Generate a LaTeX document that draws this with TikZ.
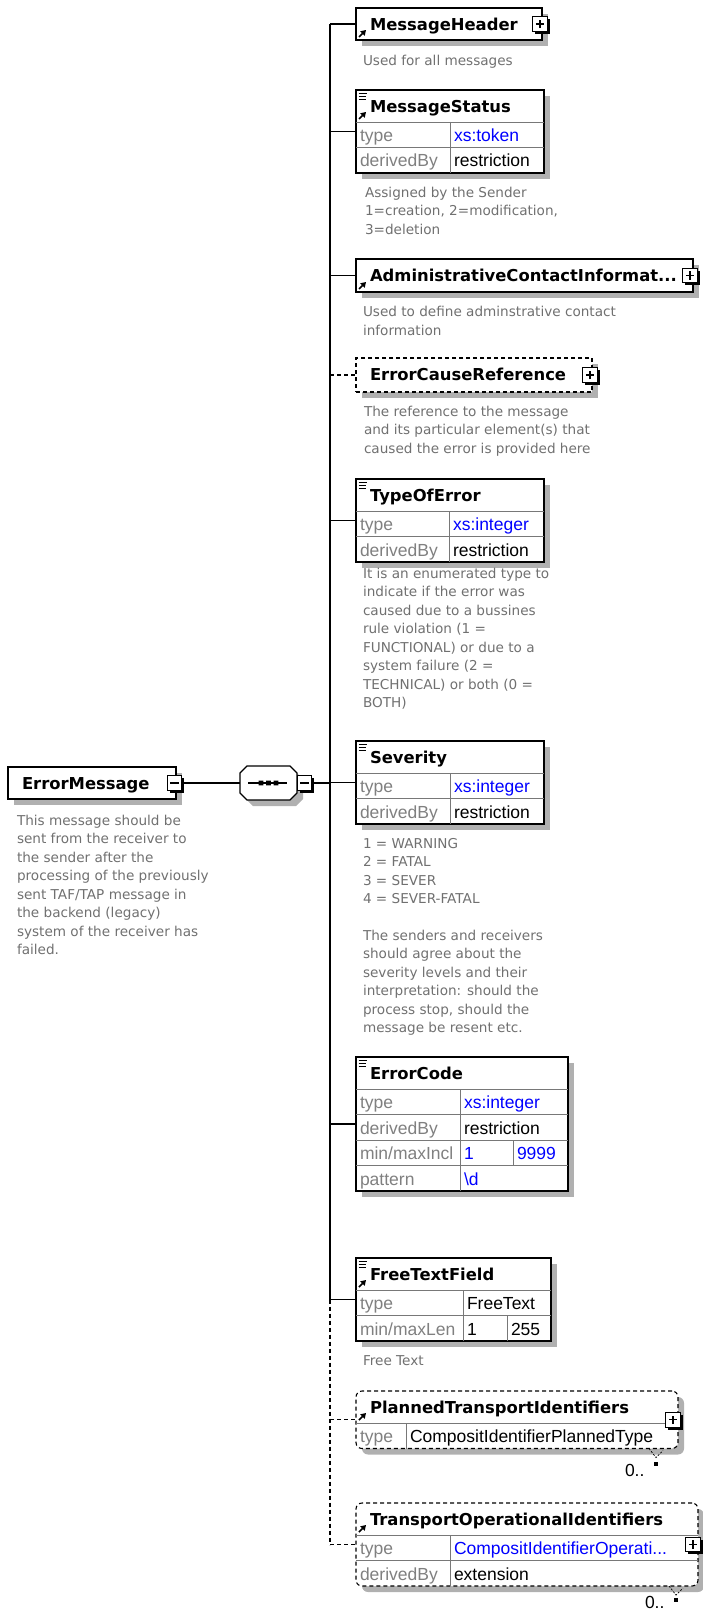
\documentclass[tikz,border=0pt]{standalone}
\usepackage{fontspec}
\setmainfont{DejaVu Sans}
\newfontfamily\tablefont{Liberation Sans}
\usetikzlibrary{shadows, positioning, arrows.meta}
\definecolor{shadow_gray}{RGB}{176, 176, 176}
\definecolor{desc_gray}{RGB}{112, 112, 112}
\definecolor{key_gray}{RGB}{128, 128, 128}
\definecolor{grid_gray}{RGB}{120, 120, 120}
\definecolor{xs_blue}{RGB}{0, 0, 255}
\def \TitleFont {\fontsize{16.4}{19}\selectfont\bfseries}
\def \DescFont {\fontsize{13.6}{18.45}\selectfont}
\def \CellFont {\tablefont\fontsize{17.5}{20}\selectfont}
\def \DocMark #1{\draw[icon_line] ([shift={(2.5,3.5)}]#1.north west) -- ++(8,0) ([shift={(2.5,6.5)}]#1.north west) -- ++(7,0) ([shift={(2.5,9.5)}]#1.north west) -- ++(7,0);}
\def \RefMark #1{\draw[ref_arrow] ([shift={(3,-3)}]#1.south west) -- ++(7,-7);}

\begin{document}
\begin{tikzpicture}[
    x=1pt, y=-1pt,
    every node/.style={outer sep=0pt},
    elem/.style={
        rectangle,
        draw=black,
        line width=1.6pt,
        fill=white,
        anchor=north west,
        inner sep=0pt,
        drop shadow={shadow xshift=6pt, shadow yshift=-6pt, fill=shadow_gray, opacity=1}
    },
    opt_elem/.style={
        elem,
        line width=1.1pt,
        dash pattern=on 4pt off 3pt
    },
    multi_elem/.style={
        opt_elem,
        rounded corners=6pt
    },
    seq_frame/.style={
        rectangle,
        minimum width=57pt,
        minimum height=34pt,
        inner sep=0pt
    },
    seq_line/.style={
        draw=black,
        line width=1.2pt,
        fill=white
    },
    title/.style={
        anchor=north west,
        inner xsep=14pt,
        inner ysep=3pt,
        text height=19.5pt,
        text depth=6.5pt,
        font=\TitleFont
    },
    key_cell/.style={
        anchor=north west,
        inner xsep=4pt,
        inner ysep=3pt,
        text height=16.5pt,
        text depth=3pt,
        text width=#1,
        align=left,
        font=\CellFont,
        text=key_gray
    },
    val_cell/.style={
        key_cell=#1,
        text=black
    },
    xs_cell/.style={
        key_cell=#1,
        text=xs_blue
    },
    desc/.style={
        anchor=north west,
        inner sep=0pt,
        align=left,
        font=\DescFont,
        text=desc_gray
    },
    toggle_box/.style={
        rectangle,
        draw=black,
        line width=1pt,
        fill=white,
        minimum size=14.5pt,
        inner sep=0pt,
        drop shadow={shadow xshift=2.5pt, shadow yshift=-2.5pt, fill=black, opacity=1}
    },
    plus_box/.style={
        toggle_box,
        path picture={
            \draw[line width=1.1pt] ([xshift=3pt]path picture bounding box.west) -- ([xshift=-3pt]path picture bounding box.east)
                ([yshift=3pt]path picture bounding box.south) -- ([yshift=-3pt]path picture bounding box.north);
        }
    },
    minus_box/.style={
        toggle_box,
        path picture={
            \draw[line width=1.1pt] ([xshift=3pt]path picture bounding box.west) -- ([xshift=-3pt]path picture bounding box.east);
        }
    },
    link/.style={line width=1.2pt},
    opt_link/.style={line width=1.1pt, dash pattern=on 4pt off 3pt},
    grid_line/.style={line width=0.8pt, draw=grid_gray},
    icon_line/.style={line width=0.9pt},
    ref_arrow/.style={line width=1.6pt, -{Triangle[length=5pt, width=6pt]}},
    occurs/.style={anchor=west, inner sep=0pt, font=\CellFont},
    occurs_dot/.style={rectangle, fill=black, minimum size=3.5pt, inner sep=0pt},
    occurs_tick/.style={line width=0.7pt, dash pattern=on 2pt off 1.5pt}
]
\useasboundingbox (0,0) rectangle (703,1613);

% root element and sequence
\node[elem, minimum width=168pt, minimum height=32pt] (root) at (8,767) {};
\node[title] (root_name) at (root.north west) {ErrorMessage};
\node[minus_box] (root_minus) at ([xshift=-1.5pt]root.east) {};
\node[desc] (root_desc) at (17,815) {This message should be\\sent from the receiver to\\the sender after the\\processing of the previously\\sent TAF/TAP message in\\the backend (legacy)\\system of the receiver has\\failed.};

\node[seq_frame] (seq) at (268.5,783) {};
\fill[shadow_gray] (seq.north west) ++(13,6) -- ++(43,0) -- ++(7,7) -- ++(0,20) -- ++(-7,7) -- ++(-43,0) -- ++(-7,-7) -- ++(0,-20) -- cycle;
\path[seq_line] (seq.north west) ++(7,0) -- ++(43,0) -- ++(7,7) -- ++(0,20) -- ++(-7,7) -- ++(-43,0) -- ++(-7,-7) -- ++(0,-20) -- cycle;
\node[minus_box, right=0pt of seq] (seq_minus) {};
\draw[link] ([xshift=8pt]seq.west) -- ([xshift=-10pt]seq.east);
\fill ([xshift=-7.5pt]seq.center) +(-2.3,-2.3) rectangle +(2.3,2.3)
      (seq.center) +(-2.3,-2.3) rectangle +(2.3,2.3)
      ([xshift=7.5pt]seq.center) +(-2.3,-2.3) rectangle +(2.3,2.3);

\coordinate (bus) at (330,783);

% child elements
\node[elem, minimum width=186pt, minimum height=32pt] (header) at (356,8) {};
\node[title] (header_name) at (header.north west) {MessageHeader};
\node[plus_box] (header_plus) at ([xshift=-2pt]header.east) {};
\RefMark{header}
\node[desc] (header_desc) at (363,55) {Used for all messages};

\node[elem, minimum width=188pt, minimum height=83pt] (status) at (356,90) {};
\node[title] (status_name) at (status.north west) {MessageStatus};
\node[key_cell=86pt] (status_k1) at (status_name.south west) {type};
\node[xs_cell=86pt] (status_v1) at (status_k1.north east) {xs:token};
\node[key_cell=86pt] (status_k2) at (status_k1.south west) {derivedBy};
\node[val_cell=86pt] (status_v2) at (status_k2.north east) {restriction};
\draw[grid_line] (status_k1.north west) -- (status_v1.north east)
    (status_k2.north west) -- (status_v2.north east)
    (status_k1.north east) -- (status_k2.south east);
\DocMark{status}
\RefMark{status_name}
\node[desc] (status_desc) at (365,187) {Assigned by the Sender\\1=creation, 2=modification,\\3=deletion};

\node[elem, minimum width=337pt, minimum height=33pt] (admin) at (356,259) {};
\node[title] (admin_name) at (admin.north west) {AdministrativeContactInformat...};
\node[plus_box] (admin_plus) at ([xshift=-3pt]admin.east) {};
\RefMark{admin}
\node[desc] (admin_desc) at (363,306.5) {Used to define adminstrative contact\\information};

\node[opt_elem, minimum width=236pt, minimum height=34pt] (cause) at (356,358) {};
\node[title] (cause_name) at (cause.north west) {ErrorCauseReference};
\node[plus_box] (cause_plus) at ([xshift=-2pt]cause.east) {};
\node[desc] (cause_desc) at (364,406) {The reference to the message\\and its particular element(s) that\\caused the error is provided here};

\node[elem, minimum width=188pt, minimum height=83pt] (type_err) at (356,479) {};
\node[title] (type_err_name) at (type_err.north west) {TypeOfError};
\node[key_cell=85pt] (type_err_k1) at (type_err_name.south west) {type};
\node[xs_cell=87pt] (type_err_v1) at (type_err_k1.north east) {xs:integer};
\node[key_cell=85pt] (type_err_k2) at (type_err_k1.south west) {derivedBy};
\node[val_cell=87pt] (type_err_v2) at (type_err_k2.north east) {restriction};
\draw[grid_line] (type_err_k1.north west) -- (type_err_v1.north east)
    (type_err_k2.north west) -- (type_err_v2.north east)
    (type_err_k1.north east) -- (type_err_k2.south east);
\DocMark{type_err}
\node[desc] (type_err_desc) at (363,568) {It is an enumerated type to\\indicate if the error was\\caused due to a bussines\\rule violation (1 =\\FUNCTIONAL) or due to a\\system failure (2 =\\TECHNICAL) or both (0 =\\BOTH)};

\node[elem, minimum width=188pt, minimum height=83pt] (severity) at (356,741) {};
\node[title] (severity_name) at (severity.north west) {Severity};
\node[key_cell=86pt] (severity_k1) at (severity_name.south west) {type};
\node[xs_cell=86pt] (severity_v1) at (severity_k1.north east) {xs:integer};
\node[key_cell=86pt] (severity_k2) at (severity_k1.south west) {derivedBy};
\node[val_cell=86pt] (severity_v2) at (severity_k2.north east) {restriction};
\draw[grid_line] (severity_k1.north west) -- (severity_v1.north east)
    (severity_k2.north west) -- (severity_v2.north east)
    (severity_k1.north east) -- (severity_k2.south east);
\DocMark{severity}
\node[desc] (severity_desc) at (363,838) {1 = WARNING\\2 = FATAL\\3 = SEVER\\4 = SEVER-FATAL\\[18.45pt]The senders and receivers\\should agree about the\\severity levels and their\\interpretation: should the\\process stop, should the\\message be resent etc.};

\node[elem, minimum width=212pt, minimum height=134pt] (code) at (356,1057) {};
\node[title] (code_name) at (code.north west) {ErrorCode};
\node[key_cell=96pt] (code_k1) at (code_name.south west) {type};
\node[xs_cell=100pt] (code_v1) at (code_k1.north east) {xs:integer};
\node[key_cell=96pt] (code_k2) at (code_k1.south west) {derivedBy};
\node[val_cell=100pt] (code_v2) at (code_k2.north east) {restriction};
\node[key_cell=96pt] (code_k3) at (code_k2.south west) {min/maxIncl};
\node[xs_cell=45pt] (code_v3) at (code_k3.north east) {1};
\node[xs_cell=47pt] (code_v3b) at (code_v3.north east) {9999};
\node[key_cell=96pt] (code_k4) at (code_k3.south west) {pattern};
\node[xs_cell=100pt] (code_v4) at (code_k4.north east) {\textbackslash d};
\draw[grid_line] (code_k1.north west) -- (code_v1.north east)
    (code_k2.north west) -- (code_v2.north east)
    (code_k3.north west) -- (code_v3b.north east)
    (code_k4.north west) -- (code_v4.north east)
    (code_k1.north east) -- (code_k4.south east)
    (code_v3.north east) -- (code_v3.south east);
\DocMark{code}

\node[elem, minimum width=195pt, minimum height=83pt] (free_text) at (356,1258) {};
\node[title] (free_name) at (free_text.north west) {FreeTextField};
\node[key_cell=99pt] (free_k1) at (free_name.south west) {type};
\node[val_cell=80pt] (free_v1) at (free_k1.north east) {FreeText};
\node[key_cell=99pt] (free_k2) at (free_k1.south west) {min/maxLen};
\node[val_cell=36pt] (free_v2) at (free_k2.north east) {1};
\node[val_cell=36pt] (free_v2b) at (free_v2.north east) {255};
\draw[grid_line] (free_k1.north west) -- (free_v1.north east)
    (free_k2.north west) -- (free_v2b.north east)
    (free_k1.north east) -- (free_k2.south east)
    (free_v2.north east) -- (free_v2.south east);
\DocMark{free_text}
\RefMark{free_name}
\node[desc] (free_desc) at (363,1356) {Free Text};

\node[multi_elem, minimum width=322pt, minimum height=57.5pt] (planned) at (356,1391) {};
\node[title] (planned_name) at (planned.north west) {PlannedTransportIdentifiers};
\node[key_cell=42pt] (planned_k1) at (planned_name.south west) {type};
\node[val_cell=264pt] (planned_v1) at (planned_k1.north east) {CompositIdentifierPlannedType};
\draw[grid_line] (planned_k1.north west) -- (planned_v1.north east)
    (planned_k1.north east) -- (planned_k1.south east);
\node[plus_box] (planned_plus) at ([xshift=-5pt]planned.east) {};
\RefMark{planned_name}
\draw[occurs_tick] ([shift={(-29,0)}]planned.south east) -- ++(7,9) -- ++(7,-7);
\node[occurs_dot] (planned_dot) at ([shift={(-22,15.5)}]planned.south east) {};
\node[occurs] (planned_occurs) at ([shift={(-53,22)}]planned.south east) {0..};

\node[multi_elem, minimum width=342pt, minimum height=83pt] (operational) at (356,1503) {};
\node[title] (operational_name) at (operational.north west) {TransportOperationalIdentifiers};
\node[key_cell=86pt] (operational_k1) at (operational_name.south west) {type};
\node[xs_cell=240pt] (operational_v1) at (operational_k1.north east) {CompositIdentifierOperati...};
\node[key_cell=86pt] (operational_k2) at (operational_k1.south west) {derivedBy};
\node[val_cell=240pt] (operational_v2) at (operational_k2.north east) {extension};
\draw[grid_line] (operational_k1.north west) -- (operational_v1.north east)
    (operational_k2.north west) -- (operational_v2.north east)
    (operational_k1.north east) -- (operational_k2.south east);
\node[plus_box] (operational_plus) at ([xshift=-5pt]operational.east) {};
\RefMark{operational_name}
\draw[occurs_tick] ([shift={(-29,0)}]operational.south east) -- ++(7,9) -- ++(7,-7);
\node[occurs_dot] (operational_dot) at ([shift={(-22,14)}]operational.south east) {};
\node[occurs] (operational_occurs) at ([shift={(-53,16)}]operational.south east) {0..};

% connectors
\draw[link] (root_minus.east) -- (seq.west);
\draw[link] (seq_minus.east) -- (bus);
\draw[link] (header.west -| bus) -- (free_text.west -| bus);
\draw[opt_link] (free_text.west -| bus) -- (operational.west -| bus);

\draw[link] (header.west -| bus) -- (header.west);
\draw[link] (status.west -| bus) -- (status.west);
\draw[link] (admin.west -| bus) -- (admin.west);
\draw[opt_link] (cause.west -| bus) -- (cause.west);
\draw[link] (type_err.west -| bus) -- (type_err.west);
\draw[link] (severity.west -| bus) -- (severity.west);
\draw[link] (code.west -| bus) -- (code.west);
\draw[link] (free_text.west -| bus) -- (free_text.west);
\draw[opt_link] (planned.west -| bus) -- (planned.west);
\draw[opt_link] (operational.west -| bus) -- (operational.west);

\end{tikzpicture}
\end{document}
